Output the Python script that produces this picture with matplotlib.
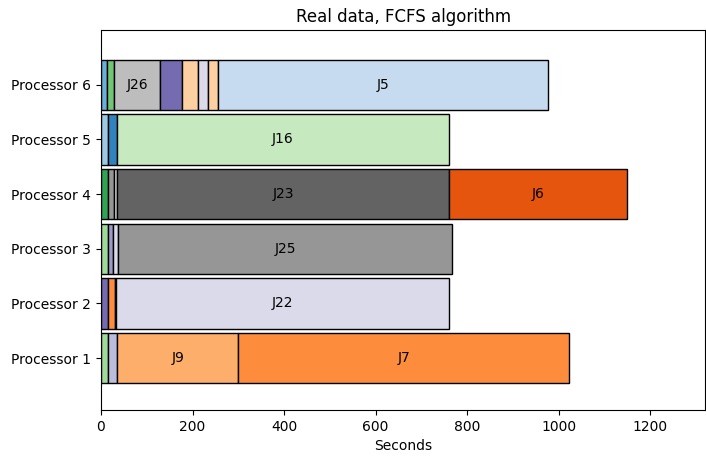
import matplotlib
matplotlib.use("Agg")
import matplotlib.pyplot as plt

processors = ["Processor 1", "Processor 2", "Processor 3", "Processor 4", "Processor 5", "Processor 6"]

p1_durations = [15, 20, 265, 723]
p1_colors = ['#a1d99b', '#bcbddc', '#fdae6b', '#fd8d3c']
p1_labels = ['', '', 'J9', 'J7']

p2_durations = [15, 15, 3, 727]
p2_colors = ['#756bb1', '#fd8d3c', '#e6550d', '#dadaeb']
p2_labels = ['', '', '', 'J22']

p3_durations = [15, 12, 10, 730]
p3_colors = ['#a1d99b', '#9e9ac8', '#dadaeb', '#969696']
p3_labels = ['', '', '', 'J25']

p4_durations = [15, 13, 7, 725, 390]
p4_colors = ['#31a354', '#969696', '#d9d9d9', '#636363', '#e6550d']
p4_labels = ['', '', '', 'J23', 'J6']

p5_durations = [15, 20, 725]
p5_colors = ['#9ecae1', '#3182bd', '#c7e9c0']
p5_labels = ['', '', 'J16']

p6_durations = [14, 15, 100, 49, 33, 23, 22, 721]
p6_colors = ['#6baed6', '#74c476', '#bdbdbd', '#756bb1', '#fdd0a2', '#dadaeb', '#fdd0a2', '#c6dbef']
p6_labels = ['', '', 'J26', '', '', '', '', 'J5']

rows = [
    (p1_durations, p1_colors, p1_labels),
    (p2_durations, p2_colors, p2_labels),
    (p3_durations, p3_colors, p3_labels),
    (p4_durations, p4_colors, p4_labels),
    (p5_durations, p5_colors, p5_labels),
    (p6_durations, p6_colors, p6_labels),
]

fig = plt.figure(figsize=(7.06, 4.58), dpi=100)
ax = fig.add_axes([0.143, 0.105, 0.856, 0.829])

for i, (durs, cols, labs) in enumerate(rows):
    start = 0
    for d, c, l in zip(durs, cols, labs):
        ax.barh(i, d, left=start, height=0.92, color=c, edgecolor='black', linewidth=1)
        if l:
            ax.text(start + d / 2, i, l, ha='center', va='center', fontsize=10)
        start += d

ax.set_yticks(range(len(processors)))
ax.set_yticklabels(processors)
ax.set_xlim(0, 1320)
ax.set_ylim(-0.95, 6.0)
ax.set_xlabel("Seconds")
ax.set_title("Real data, FCFS algorithm")

fig.savefig("out.png", dpi=100)
